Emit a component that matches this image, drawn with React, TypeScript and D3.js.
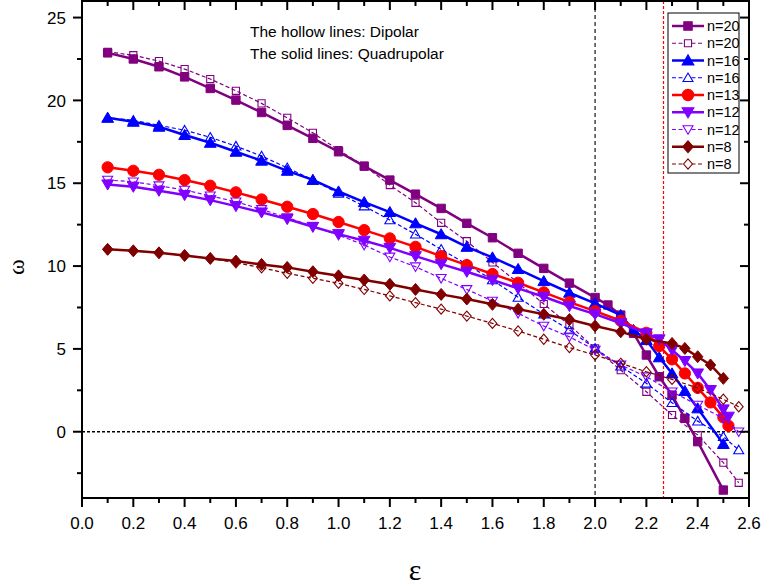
import React, { useRef, useEffect } from "react";
import * as d3 from "d3";

// epsilon values (x axis)
const epsCommon = [0.1, 0.2, 0.3, 0.4, 0.5, 0.6, 0.7, 0.8, 0.9, 1.0, 1.1, 1.2, 1.3, 1.4, 1.5, 1.6, 1.7, 1.8, 1.9, 2.0];
const epsDipole = [...epsCommon, 2.1, 2.2, 2.3, 2.4, 2.5, 2.56];
const epsQ20 = [...epsCommon, 2.05, 2.1, 2.15, 2.2, 2.25, 2.3, 2.35, 2.4, 2.5];
const epsQ16 = [...epsCommon, 2.1, 2.15, 2.2, 2.25, 2.3, 2.35, 2.4, 2.5];
const epsQ13 = [...epsCommon, 2.1, 2.2, 2.25, 2.3, 2.35, 2.4, 2.45, 2.5, 2.52];
const epsQ8 = [...epsCommon, 2.1, 2.2, 2.3, 2.35, 2.4, 2.45, 2.5];

// omega values, solid = quadrupolar, hollow = dipolar
const wQ20 = [22.87, 22.5, 22.03, 21.42, 20.72, 20.02, 19.27, 18.49, 17.71, 16.9, 16.03, 15.19, 14.34, 13.48, 12.58, 11.71, 10.77, 9.86, 8.97, 8.1, 7.65, 7.04, 5.94, 4.63, 3.32, 2.21, 0.81, -0.6, -3.52];
const wD20 = [22.93, 22.73, 22.37, 21.89, 21.29, 20.58, 19.82, 18.95, 18.04, 17.0, 16.05, 14.89, 13.82, 12.61, 11.5, 10.22, 8.99, 7.71, 6.44, 5.03, 3.72, 2.41, 1.01, -0.2, -1.87, -3.08];
const wQ16 = [18.95, 18.71, 18.41, 17.91, 17.44, 16.9, 16.36, 15.75, 15.2, 14.5, 13.86, 13.26, 12.58, 11.92, 11.16, 10.52, 9.82, 9.09, 8.39, 7.75, 7.04, 6.14, 5.53, 4.49, 3.52, 2.46, 1.41, -0.74];
const wD16 = [18.95, 18.8, 18.5, 18.2, 17.77, 17.24, 16.64, 15.93, 15.2, 14.38, 13.62, 12.78, 11.92, 11.01, 10.1, 9.16, 8.11, 7.1, 6.14, 5.03, 3.96, 2.92, 1.75, 0.64, -0.3, -1.1];
const wQ13 = [15.96, 15.75, 15.51, 15.19, 14.85, 14.45, 14.02, 13.58, 13.14, 12.66, 12.17, 11.67, 11.16, 10.6, 10.06, 9.52, 8.99, 8.41, 7.82, 7.28, 6.7, 5.97, 5.17, 4.37, 3.52, 2.65, 1.77, 0.87, 0.36];
const wQ12 = [14.93, 14.79, 14.55, 14.29, 13.98, 13.62, 13.24, 12.84, 12.37, 11.93, 11.53, 11.1, 10.6, 10.12, 9.66, 9.16, 8.65, 8.15, 7.59, 7.1, 6.55, 5.94, 5.58, 4.93, 4.27, 3.52, 2.52, 1.35, 0.91];
const wD12 = [15.19, 15.09, 14.85, 14.59, 14.24, 13.88, 13.42, 12.92, 12.4, 11.87, 11.27, 10.55, 9.96, 9.26, 8.59, 7.89, 7.15, 6.38, 5.73, 4.93, 4.03, 3.32, 2.41, 1.61, 0.81, 0.0];
const wQ8 = [11.01, 10.92, 10.8, 10.64, 10.46, 10.3, 10.1, 9.92, 9.66, 9.41, 9.16, 8.9, 8.59, 8.29, 8.01, 7.69, 7.4, 7.09, 6.77, 6.38, 6.03, 5.58, 5.33, 5.03, 4.53, 4.03, 3.22];
const wD8 = [11.01, 10.92, 10.8, 10.64, 10.46, 10.2, 9.9, 9.56, 9.26, 8.96, 8.59, 8.2, 7.79, 7.4, 6.98, 6.54, 6.08, 5.58, 5.08, 4.63, 4.13, 3.62, 3.16, 2.64, 1.96, 1.51];

const labels = ["n=20", "n=20", "n=16", "n=16", "n=13", "n=12", "n=12", "n=8", "n=8"];
const xTicks = [0, 0.2, 0.4, 0.6, 0.8, 1.0, 1.2, 1.4, 1.6, 1.8, 2.0, 2.2, 2.4, 2.6];
const yTicks = [0, 5, 10, 15, 20, 25];
const eps0 = 2.0;
const epsCrit = 2.266;

type Shape = "square" | "triUp" | "triDown" | "circle" | "diamond";
type Series = { label: string; x: number[]; y: number[]; color: string; shape: Shape; solid: boolean };

const series: Series[] = [
  { label: labels[0], x: epsQ20, y: wQ20, color: "#800080", shape: "square", solid: true },
  { label: labels[1], x: epsDipole, y: wD20, color: "#800080", shape: "square", solid: false },
  { label: labels[2], x: epsQ16, y: wQ16, color: "#0000ff", shape: "triUp", solid: true },
  { label: labels[3], x: epsDipole, y: wD16, color: "#0000ff", shape: "triUp", solid: false },
  { label: labels[4], x: epsQ13, y: wQ13, color: "#ff0000", shape: "circle", solid: true },
  { label: labels[5], x: epsQ13, y: wQ12, color: "#8000ff", shape: "triDown", solid: true },
  { label: labels[6], x: epsDipole, y: wD12, color: "#8000ff", shape: "triDown", solid: false },
  { label: labels[7], x: epsQ8, y: wQ8, color: "#800000", shape: "diamond", solid: true },
  { label: labels[8], x: epsDipole, y: wD8, color: "#800000", shape: "diamond", solid: false },
];

const markerPath = (shape: Shape, solid: boolean) => {
  const s = solid ? 1 : 0.85;
  if (shape === "square") {
    const h = 4.2 * s;
    return `M${-h},${-h}H${h}V${h}H${-h}Z`;
  }
  if (shape === "triUp") {
    const h = 5.6 * s;
    return `M0,${-h}L${h * 1.05},${h * 0.8}L${-h * 1.05},${h * 0.8}Z`;
  }
  if (shape === "triDown") {
    const h = 5.6 * s;
    return `M0,${h}L${h * 1.05},${-h * 0.8}L${-h * 1.05},${-h * 0.8}Z`;
  }
  if (shape === "diamond") {
    const h = 5.2 * s;
    return `M0,${-h * 1.15}L${h},0L0,${h * 1.15}L${-h},0Z`;
  }
  return d3.symbol().type(d3.symbolCircle).size(solid ? 100 : 70)() as string;
};

const App = () => {
  const ref = useRef<SVGSVGElement>(null);

  useEffect(() => {
    const width = 764;
    const height = 588;
    const m = { left: 82, right: 749, top: 1, bottom: 498 };
    const font = "'Liberation Sans', Arial, sans-serif";
    const serif = "'Liberation Serif', 'Times New Roman', serif";

    const svg = d3.select(ref.current).attr("width", width).attr("height", height);
    svg.selectAll("*").remove();

    const x = d3.scaleLinear().domain([0, 2.6]).range([m.left, m.right]);
    const y = d3.scaleLinear().domain([-4, 26]).range([m.bottom, m.top]);

    // reference lines
    svg.append("line")
      .attr("x1", x(eps0)).attr("x2", x(eps0)).attr("y1", m.top).attr("y2", m.bottom)
      .attr("stroke", "#000").attr("stroke-width", 1.1).attr("stroke-dasharray", "4,3");
    const xc = Math.round(x(epsCrit)) + 0.5;
    svg.append("line")
      .attr("x1", xc).attr("x2", xc).attr("y1", m.top).attr("y2", m.bottom)
      .attr("stroke", "#ff0000").attr("stroke-width", 1.2).attr("stroke-dasharray", "3,2");
    svg.append("line")
      .attr("x1", m.left).attr("x2", m.right).attr("y1", y(0)).attr("y2", y(0))
      .attr("stroke", "#000").attr("stroke-width", 1.4).attr("stroke-dasharray", "3,2");

    const line = d3.line<[number, number]>().x((d) => x(d[0])).y((d) => y(d[1]));

    series.forEach((s) => {
      const pts = s.x.map((e, i) => [e, s.y[i]] as [number, number]);
      const g = svg.append("g");
      g.append("path")
        .attr("d", line(pts))
        .attr("fill", "none")
        .attr("stroke", s.color)
        .attr("stroke-width", s.solid ? 2.5 : 1.2)
        .attr("stroke-dasharray", s.solid ? null : "4,2.5");
      g.selectAll("path.mk")
        .data(pts)
        .enter()
        .append("path")
        .attr("class", "mk")
        .attr("d", markerPath(s.shape, s.solid))
        .attr("transform", (d) => `translate(${x(d[0])},${y(d[1])})`)
        .attr("fill", s.solid ? s.color : "none")
        .attr("stroke", s.color)
        .attr("stroke-width", s.solid ? 1 : 1.1);
    });

    // frame
    svg.append("rect")
      .attr("x", m.left).attr("y", m.top)
      .attr("width", m.right - m.left).attr("height", m.bottom - m.top)
      .attr("fill", "none").attr("stroke", "#000").attr("stroke-width", 2);

    // x ticks (bottom outward, top inward)
    const xMinor = d3.range(0, 27).map((i) => i / 10);
    xMinor.forEach((v, i) => {
      const len = i % 2 === 0 ? 9 : 5;
      svg.append("line").attr("x1", x(v)).attr("x2", x(v))
        .attr("y1", m.bottom).attr("y2", m.bottom + len)
        .attr("stroke", "#000").attr("stroke-width", 2);
      svg.append("line").attr("x1", x(v)).attr("x2", x(v))
        .attr("y1", m.top).attr("y2", m.top + len)
        .attr("stroke", "#000").attr("stroke-width", 2);
    });
    svg.selectAll("text.xt").data(xTicks).enter().append("text")
      .attr("x", (d) => x(d)).attr("y", 529)
      .attr("text-anchor", "middle")
      .style("font-family", font).style("font-size", "17px")
      .text((d) => d3.format(".1f")(d));

    // y ticks (left outward, right inward)
    const yMinor = d3.range(-2.5, 26, 2.5);
    yMinor.forEach((v) => {
      const len = Math.abs(v % 5) < 1e-6 ? 9 : 5;
      svg.append("line").attr("x1", m.left - len).attr("x2", m.left)
        .attr("y1", y(v)).attr("y2", y(v))
        .attr("stroke", "#000").attr("stroke-width", 2);
      svg.append("line").attr("x1", m.right - len).attr("x2", m.right)
        .attr("y1", y(v)).attr("y2", y(v))
        .attr("stroke", "#000").attr("stroke-width", 2);
    });
    svg.selectAll("text.yt").data(yTicks).enter().append("text")
      .attr("x", 66).attr("y", (d) => y(d)).attr("dy", "0.36em")
      .attr("text-anchor", "end")
      .style("font-family", font).style("font-size", "17px")
      .text((d) => d);

    // axis titles
    svg.append("text")
      .attr("transform", "translate(24,267) rotate(-90)")
      .attr("text-anchor", "middle")
      .style("font-family", serif).style("font-size", "24px")
      .text("ω");
    svg.append("text")
      .attr("x", 415).attr("y", 580)
      .attr("text-anchor", "middle")
      .style("font-family", serif).style("font-size", "30px")
      .text("ε");

    // annotation
    svg.append("text").attr("x", 250).attr("y", 37)
      .style("font-family", font).style("font-size", "15.5px")
      .text("The hollow lines: Dipolar");
    svg.append("text").attr("x", 250).attr("y", 59)
      .style("font-family", font).style("font-size", "15.5px")
      .text("The solid lines: Quadrupolar");

    // legend
    const lg = svg.append("g");
    lg.append("rect")
      .attr("x", 668).attr("y", 13).attr("width", 71).attr("height", 160)
      .attr("fill", "#fff").attr("stroke", "#000").attr("stroke-width", 1);
    series.forEach((s, i) => {
      const yy = 26 + i * 17.25;
      lg.append("line")
        .attr("x1", 672).attr("x2", 704).attr("y1", yy).attr("y2", yy)
        .attr("stroke", s.color)
        .attr("stroke-width", s.solid ? 2.5 : 1.2)
        .attr("stroke-dasharray", s.solid ? null : "4,2.5");
      lg.append("path")
        .attr("d", markerPath(s.shape, s.solid))
        .attr("transform", `translate(688,${yy})`)
        .attr("fill", s.solid ? s.color : "#fff")
        .attr("stroke", s.color)
        .attr("stroke-width", 1.1);
      lg.append("text")
        .attr("x", 707).attr("y", yy).attr("dy", "0.36em")
        .style("font-family", font).style("font-size", "14.5px")
        .text(s.label);
    });
  }, []);

  return (
    <div>
      <svg ref={ref} style={{ position: "absolute", left: 0, top: 0 }}></svg>
    </div>
  );
};

export default App;
